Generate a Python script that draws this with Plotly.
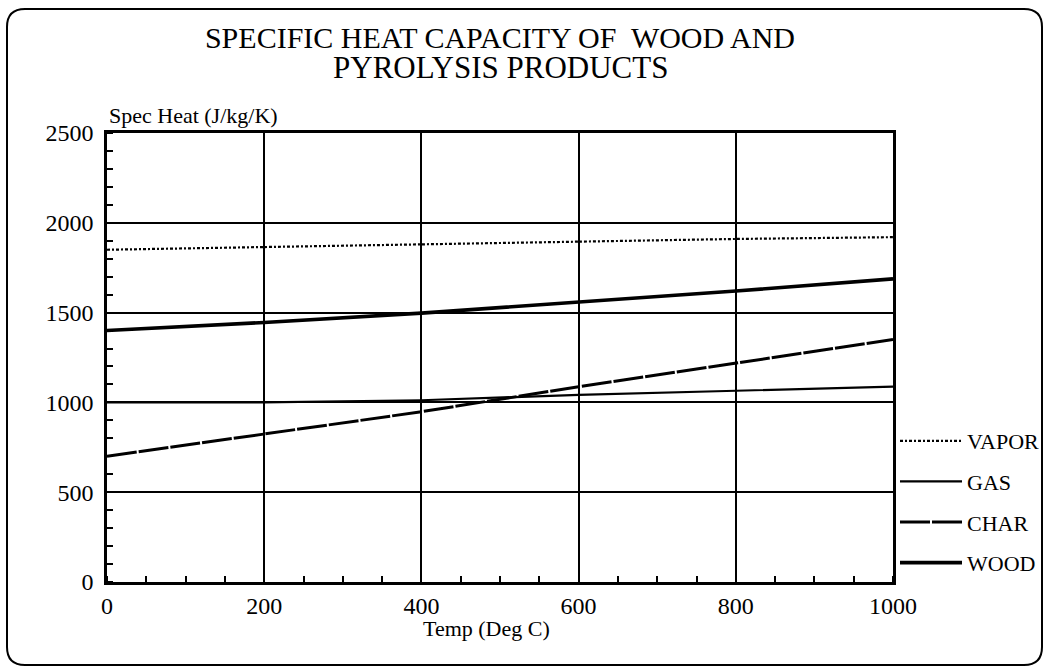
import plotly.graph_objects as go

# temperatures (deg C) at which the curves were read
temp = [0, 200, 400, 600, 800, 1000]

# specific heat (J/kg/K)
vapor = [1850, 1865, 1880, 1895, 1910, 1920]
gas = [1000, 1000, 1012, 1042, 1065, 1088]
char = [700, 823, 948, 1087, 1220, 1350]
wood = [1400, 1445, 1497, 1556, 1620, 1688]

x_ticks = [0, 200, 400, 600, 800, 1000]
y_ticks = [0, 500, 1000, 1500, 2000, 2500]

FONT = "Liberation Serif"
W, H = 1045, 668
L, R, T, B = 107, 893, 133, 582


def px(x):
    return (x - L) / (R - L)


def py(y):
    return (B - y) / (B - T)


fig = go.Figure()

series = [
    ("VAPOR", vapor, dict(color="black", width=2.2, dash="3px,2px,2px,2px")),
    ("GAS", gas, dict(color="black", width=2.2)),
    ("CHAR", char, dict(color="black", width=3, dash="30px,2px")),
    ("WOOD", wood, dict(color="black", width=3.6)),
]
for name, vals, line in series:
    fig.add_trace(go.Scatter(
        x=temp, y=vals, mode="lines", name=name, line=line,
        legendgroup=name,
    ))

# rounded frame around the whole figure
x0, x1, y0, y1, r = 7, 1042, 9, 665, 18
path = (
    f"M {px(x0)},{py(y0 + r)} "
    f"Q {px(x0)},{py(y0)} {px(x0 + r)},{py(y0)} "
    f"L {px(x1 - r)},{py(y0)} "
    f"Q {px(x1)},{py(y0)} {px(x1)},{py(y0 + r)} "
    f"L {px(x1)},{py(y1 - r)} "
    f"Q {px(x1)},{py(y1)} {px(x1 - r)},{py(y1)} "
    f"L {px(x0 + r)},{py(y1)} "
    f"Q {px(x0)},{py(y1)} {px(x0)},{py(y1 - r)} Z"
)
fig.add_shape(type="path", path=path, xref="paper", yref="paper",
              line=dict(color="black", width=2), layer="below")

# second title line
fig.add_annotation(text="PYROLYSIS PRODUCTS", xref="paper", yref="paper",
                   x=px(500), y=py(68), xanchor="center", yanchor="middle",
                   showarrow=False, font=dict(family=FONT, size=31, color="black"))
fig.add_annotation(text="Spec Heat (J/kg/K)", xref="paper", yref="paper",
                   x=0, y=py(115), xanchor="left", yanchor="middle",
                   showarrow=False, font=dict(family=FONT, size=22, color="black"))
fig.add_annotation(text="Temp (Deg C)", xref="paper", yref="paper",
                   x=px(486), y=py(628), xanchor="center", yanchor="middle",
                   showarrow=False, font=dict(family=FONT, size=22, color="black"))

axis_common = dict(
    showline=True, linecolor="black", linewidth=2.5, mirror=True,
    showgrid=True, gridcolor="black", gridwidth=2,
    ticks="", zeroline=False,
    tickfont=dict(family=FONT, size=24, color="black"),
)

fig.update_xaxes(
    range=[0, 1000], tickvals=x_ticks, ticktext=[str(v) for v in x_ticks],
    minor=dict(dtick=50, ticks="inside", ticklen=6, tickcolor="black",
               tickwidth=1.5, showgrid=False),
    ticklabelstandoff=0,
    **axis_common,
)
fig.update_yaxes(
    range=[0, 2500], tickvals=y_ticks, ticktext=[str(v) for v in y_ticks],
    minor=dict(dtick=100, ticks="inside", ticklen=6, tickcolor="black",
               tickwidth=1.5, showgrid=False),
    ticklabelstandoff=6,
    **axis_common,
)

fig.update_layout(
    width=W, height=H, autosize=False,
    margin=dict(l=L, r=W - R, t=T, b=H - B, autoexpand=False),
    paper_bgcolor="white", plot_bgcolor="white",
    title=dict(
        text="SPECIFIC HEAT CAPACITY OF  WOOD AND",
        x=500 / W, xanchor="center", xref="container",
        y=1 - 37 / H, yanchor="middle", yref="container",
        font=dict(family=FONT, size=30, color="black"),
    ),
    legend=dict(
        x=px(895), y=py(420), xanchor="left", yanchor="top",
        font=dict(family=FONT, size=22, color="black"),
        traceorder="grouped", tracegroupgap=9,
        bgcolor="rgba(0,0,0,0)", itemwidth=62,
    ),
    showlegend=True,
)

fig.write_html(
    "out.html",
    config={"displayModeBar": False, "responsive": False},
    post_script=(
        "document.body.style.margin='0';"
        "document.body.style.overflow='hidden';"
        "document.documentElement.style.overflow='hidden';"
    ),
)
